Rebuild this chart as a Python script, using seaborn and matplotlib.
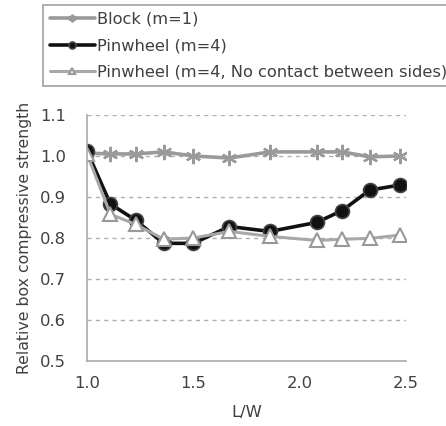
import matplotlib
matplotlib.use("Agg")
import matplotlib.pyplot as plt
import pandas as pd
import seaborn as sns

# L/W ratios
lw = [1.0, 1.11, 1.23, 1.36, 1.50, 1.67, 1.86, 2.08, 2.20, 2.33, 2.47]
block = [1.007, 1.005, 1.005, 1.010, 1.000, 0.995, 1.010, 1.010, 1.010, 0.998, 1.000]
pinwheel = [1.012, 0.883, 0.843, 0.787, 0.787, 0.828, 0.816, 0.838, 0.867, 0.917, 0.929]
no_contact = [1.005, 0.858, 0.833, 0.797, 0.800, 0.816, 0.804, 0.794, 0.797, 0.799, 0.807]

labels = ["Block (m=1)", "Pinwheel (m=4)", "Pinwheel (m=4, No contact between sides)"]

df = pd.DataFrame({
    "lw": lw * 3,
    "val": block + pinwheel + no_contact,
    "series": [labels[0]] * len(lw) + [labels[1]] * len(lw) + [labels[2]] * len(lw),
})

sns.set_style("white")
plt.rcParams["font.family"] = ["DejaVu Sans"]
txt = "#404040"

fig = plt.figure(figsize=(4.46, 4.26), dpi=100)
ax = fig.add_axes([87 / 446, 1 - 361 / 426, (406 - 87) / 446, (361 - 115) / 426])

styles = {
    labels[0]: dict(color="#9a9a9a", marker=(6, 2, 0), markersize=11, markeredgewidth=1.6,
                    markeredgecolor="#9a9a9a", linewidth=2.6),
    labels[1]: dict(color="#111111", marker="o", markersize=10, markeredgewidth=1.2,
                    markeredgecolor="#444444", linewidth=2.6),
    labels[2]: dict(color="#a8a8a8", marker="^", markersize=10, markeredgewidth=1.5,
                    markerfacecolor="white", markeredgecolor="#999999", linewidth=2.2),
}

for name in labels:
    sub = df[df["series"] == name]
    sns.lineplot(data=sub, x="lw", y="val", ax=ax, label=name, **styles[name])

ax.set_xlim(1.0, 2.5)
ax.set_ylim(0.5, 1.1)
ax.set_xticks([1.0, 1.5, 2.0, 2.5])
ax.set_yticks([0.5, 0.6, 0.7, 0.8, 0.9, 1.0, 1.1])
ax.set_xticklabels(["1.0", "1.5", "2.0", "2.5"])
ax.set_yticklabels(["0.5", "0.6", "0.7", "0.8", "0.9", "1.0", "1.1"])
for y in [0.6, 0.7, 0.8, 0.9, 1.0, 1.1]:
    ax.axhline(y, color="#b0b0b0", linestyle=(0, (3, 3)), linewidth=1, zorder=0)

for s in ["top", "right"]:
    ax.spines[s].set_visible(False)
for s in ["left", "bottom"]:
    ax.spines[s].set_color("#aaaaaa")
    ax.spines[s].set_linewidth(1.2)

ax.tick_params(axis="both", colors="#aaaaaa", labelcolor=txt, labelsize=11.8,
               length=4, width=1.2, direction="inout")
ax.tick_params(axis="x", pad=9)
ax.tick_params(axis="y", pad=13)
ax.set_xlabel("L/W", fontsize=11.8, color=txt, labelpad=10)
ax.set_ylabel("Relative box compressive strength", fontsize=11.3, color=txt, labelpad=6)

leg = ax.legend(loc="upper left", bbox_to_anchor=(43 / 446, 1 - 5 / 426),
                bbox_transform=fig.transFigure, frameon=True, fancybox=False,
                fontsize=11.7, handlelength=2.8, handletextpad=0.1, labelspacing=0.72,
                borderpad=0.4, borderaxespad=0, markerscale=0.5)
leg.get_frame().set_edgecolor("#888888")
leg.get_frame().set_linewidth(1.2)
for t in leg.get_texts():
    t.set_color(txt)

fig.savefig("out.png", dpi=100)
